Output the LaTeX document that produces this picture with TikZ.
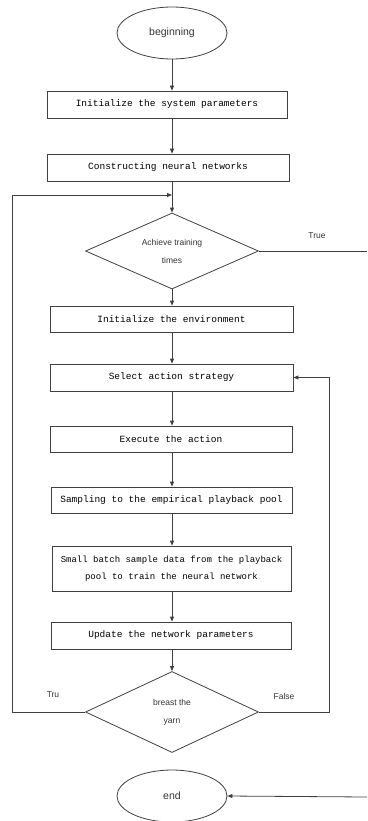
\documentclass[tikz,border=0pt]{standalone}
\usepackage{fontspec}
\setmainfont{Liberation Sans}
\newfontfamily\boxfont{Liberation Mono}
\usetikzlibrary{shapes.geometric,arrows.meta}
\begin{document}
\begin{tikzpicture}[x=1pt,y=-1pt,
  line/.style={draw=black!75, line width=0.8pt},
  arr/.style={line, -{Triangle[length=5pt,width=4pt]}},
  procbox/.style={draw=black!75, line width=0.8pt, minimum height=27pt, inner sep=0pt, font=\boxfont\fontsize{9.5pt}{13pt}\selectfont, align=center},
  term/.style={ellipse, draw=black!75, line width=0.8pt, minimum width=110pt, minimum height=52pt, inner sep=0pt, font=\fontsize{10.5pt}{12pt}\selectfont, text=black!80},
  decide/.style={diamond, aspect=2.3, draw=black!75, line width=0.8pt, minimum width=173pt, inner sep=0pt, font=\fontsize{8.5pt}{18pt}\selectfont, align=center, text=black!80},
  lbl/.style={font=\fontsize{8.5pt}{10pt}\selectfont, text=black!80}]
\useasboundingbox (0,0) rectangle (367,821);
\node[term] (start) at (172,33) {beginning};
\node[procbox, minimum width=240pt] (b1) at (167,104.5) {Initialize the system parameters};
\node[procbox, minimum width=242pt] (b2) at (168,167.5) {Constructing neural networks};
\node[decide, minimum height=76pt] (d1) at (172,251) {Achieve training\\times};
\node[procbox, minimum width=243pt, minimum height=26pt] (b3) at (171.5,319) {Initialize the environment};
\node[procbox, minimum width=243pt] (b4) at (171.5,377.5) {Select action strategy};
\node[procbox, minimum width=242pt, minimum height=26pt] (b5) at (171,439) {Execute the action};
\node[procbox, minimum width=241pt, minimum height=26pt] (b6) at (171.5,500) {Sampling to the empirical playback pool};
\node[procbox, minimum width=239pt, minimum height=45pt, font=\boxfont\fontsize{9pt}{17pt}\selectfont] (b7) at (171.5,568.5) {Small batch sample data from the playback\\pool to train the neural network};
\node[procbox, minimum width=240pt] (b8) at (171,635.5) {Update the network parameters};
\node[decide, minimum height=81pt] (d2) at (172,712) {breast the\\yarn};
\node[term] (end) at (172,796) {end};
\coordinate (loopin) at (172,195);
\coordinate (trueout) at (367,251);
\coordinate (endin) at (367,797);
\draw[arr] (start.south) -- (start.south |- b1.north);
\draw[arr] (b1.south -| start) -- (b2.north -| start);
\draw[arr] (b2.south -| start) -- (d1.north);
\draw[arr] (d1.south) -- (b3.north -| d1);
\draw[arr] (b3.south -| d1) -- (b4.north -| d1);
\draw[arr] (b4.south -| d1) -- (b5.north -| d1);
\draw[arr] (b5.south -| d1) -- (b6.north -| d1);
\draw[arr] (b6.south -| d1) -- (b7.north -| d1);
\draw[arr] (b7.south -| d1) -- (b8.north -| d1);
\draw[arr] (b8.south -| d1) -- (d2.north);
\draw[arr] (d2.west) -- (12,712) -- (12,195) -- (loopin);
\draw[arr] (d2.east) -- (329,712) -- (329,377.5) -- (b4.east);
\draw[line] (d1.east) -- (trueout);
\draw[arr] (endin) -- (end.east);
\node[lbl] (ltrue) at (317,236) {True};
\node[lbl] (ltru) at (53,695) {Tru};
\node[lbl] (lfalse) at (284,696) {False};
\end{tikzpicture}
\end{document}
